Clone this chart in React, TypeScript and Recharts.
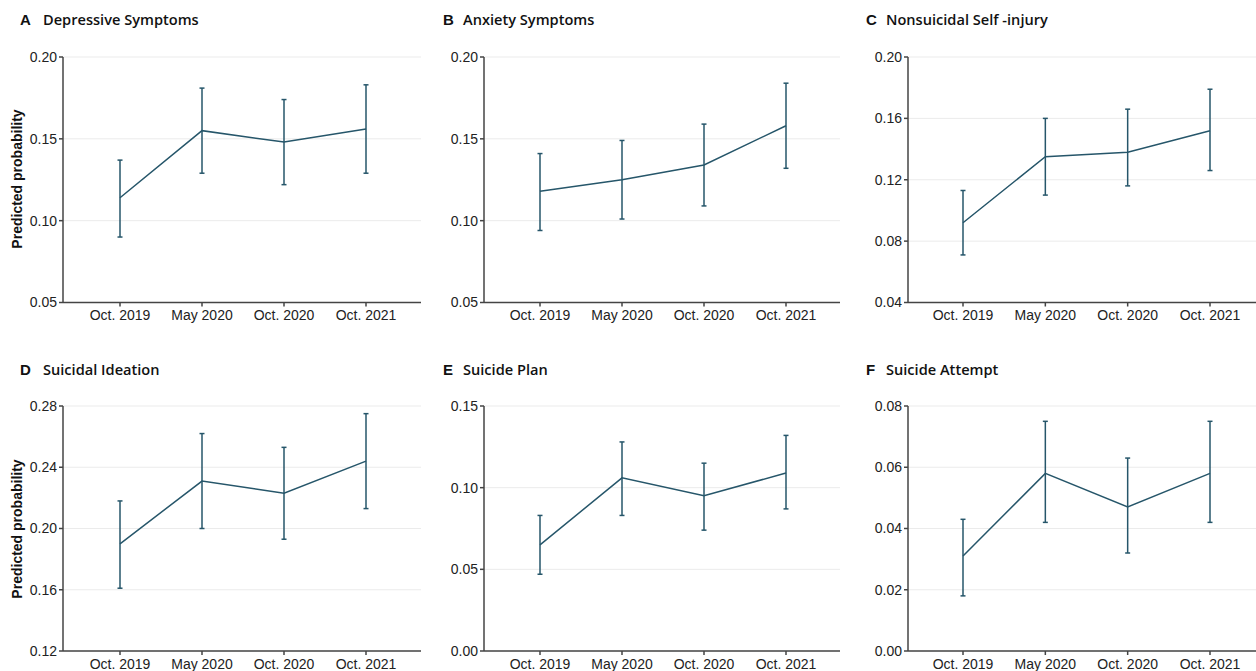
import React from 'react';
import { LineChart, Line, XAxis, YAxis, CartesianGrid, ErrorBar } from 'recharts';

const periods = ['Oct. 2019', 'May 2020', 'Oct. 2020', 'Oct. 2021'];

// estimate, lower CI, upper CI per wave
const depressive = [[0.114, 0.090, 0.137], [0.155, 0.129, 0.181], [0.148, 0.122, 0.174], [0.156, 0.129, 0.183]];
const anxiety = [[0.118, 0.094, 0.141], [0.125, 0.101, 0.149], [0.134, 0.109, 0.159], [0.158, 0.132, 0.184]];
const nssi = [[0.092, 0.071, 0.113], [0.135, 0.110, 0.160], [0.138, 0.116, 0.166], [0.152, 0.126, 0.179]];
const ideation = [[0.190, 0.161, 0.218], [0.231, 0.200, 0.262], [0.223, 0.193, 0.253], [0.244, 0.213, 0.275]];
const plan = [[0.065, 0.047, 0.083], [0.106, 0.083, 0.128], [0.095, 0.074, 0.115], [0.109, 0.087, 0.132]];
const attempt = [[0.031, 0.018, 0.043], [0.058, 0.042, 0.075], [0.047, 0.032, 0.063], [0.058, 0.042, 0.075]];

const ticksA = [0.05, 0.10, 0.15, 0.20];
const ticksC = [0.04, 0.08, 0.12, 0.16, 0.20];
const ticksD = [0.12, 0.16, 0.20, 0.24, 0.28];
const ticksE = [0.00, 0.05, 0.10, 0.15];
const ticksF = [0.00, 0.02, 0.04, 0.06, 0.08];

const LINE = '#26566a';
const AXIS = '#444';
const ARIAL = 'Liberation Sans, Arial, sans-serif';

const colX = [63, 484, 908];
const colRight = [421, 840, 1256];
const colPad = [[57, 55], [56, 54], [55, 46]];
const letterX = [20, 443, 866];
const titleX = [43, 463, 886];
const rowTop = [56.5, 406];
const rowBottom = [302, 651];
const titleY = [20, 370];

const panels = [
  { letter: 'A', title: 'Depressive Symptoms', values: depressive, ticks: ticksA, col: 0, row: 0, ylabel: true },
  { letter: 'B', title: 'Anxiety Symptoms', values: anxiety, ticks: ticksA, col: 1, row: 0 },
  { letter: 'C', title: 'Nonsuicidal Self -injury', values: nssi, ticks: ticksC, col: 2, row: 0 },
  { letter: 'D', title: 'Suicidal Ideation', values: ideation, ticks: ticksD, col: 0, row: 1, ylabel: true },
  { letter: 'E', title: 'Suicide Plan', values: plan, ticks: ticksE, col: 1, row: 1 },
  { letter: 'F', title: 'Suicide Attempt', values: attempt, ticks: ticksF, col: 2, row: 1 },
];

const Panel = ({ p }: { p: any }) => {
  const yW = 60;
  const xH = 28;
  const left = colX[p.col] - yW;
  const top = rowTop[p.row] - 10;
  const width = colRight[p.col] - left;
  const height = rowBottom[p.row] - top + xH;
  const data = p.values.map((v: number[], i: number) => ({
    period: periods[i],
    value: v[0],
    err: [v[0] - v[1], v[2] - v[0]],
  }));
  const t = p.ticks;
  return (
    <>
      <div style={{ position: 'absolute', left: letterX[p.col], top: titleY[p.row] - 10, fontFamily: ARIAL, fontWeight: 700, fontSize: 15, lineHeight: '20px', color: '#111' }}>
        {p.letter}
      </div>
      <div style={{ position: 'absolute', left: titleX[p.col], top: titleY[p.row] - 11, fontFamily: 'Open Sans, sans-serif', fontWeight: 600, fontSize: 14.6, lineHeight: '20px', color: '#111', whiteSpace: 'nowrap' }}>
        {p.title}
      </div>
      {p.ylabel && (
        <div style={{ position: 'absolute', left: 17 - 100, top: (rowTop[p.row] + rowBottom[p.row]) / 2 - 10, width: 200, textAlign: 'center', transform: 'rotate(-90deg)', fontFamily: ARIAL, fontWeight: 700, fontSize: 14, lineHeight: '20px', color: '#111' }}>
          Predicted probability
        </div>
      )}
      <div style={{ position: 'absolute', left, top }}>
        <LineChart width={width} height={height} data={data} margin={{ top: 10, right: 0, bottom: 0, left: 0 }}>
          <CartesianGrid vertical={false} stroke="#ebebeb" strokeWidth={1} />
          <XAxis
            dataKey="period"
            scale="point"
            padding={{ left: colPad[p.col][0], right: colPad[p.col][1] }}
            height={xH}
            tickSize={4}
            tickMargin={4}
            stroke={AXIS}
            strokeWidth={1.5}
            tick={{ fill: '#222', fontSize: 14, fontFamily: ARIAL }}
            interval={0}
          />
          <YAxis
            width={yW}
            domain={[t[0], t[t.length - 1]]}
            ticks={t}
            type="number"
            allowDataOverflow
            tickFormatter={(v: number) => v.toFixed(2)}
            tickSize={4}
            tickMargin={2}
            stroke={AXIS}
            strokeWidth={1.5}
            tick={{ fill: '#222', fontSize: 14, fontFamily: ARIAL }}
          />
          <Line type="linear" dataKey="value" stroke={LINE} strokeWidth={1.5} dot={false} isAnimationActive={false}>
            <ErrorBar dataKey="err" width={2.5} stroke={LINE} strokeWidth={1.5} direction="y" />
          </Line>
        </LineChart>
      </div>
    </>
  );
};

export default function App() {
  return (
    <div style={{ position: 'absolute', left: 0, top: 0, width: 1256, height: 671, overflow: 'hidden', background: '#fff' }}>
      {panels.map((p) => (
        <Panel key={p.letter} p={p} />
      ))}
    </div>
  );
}
